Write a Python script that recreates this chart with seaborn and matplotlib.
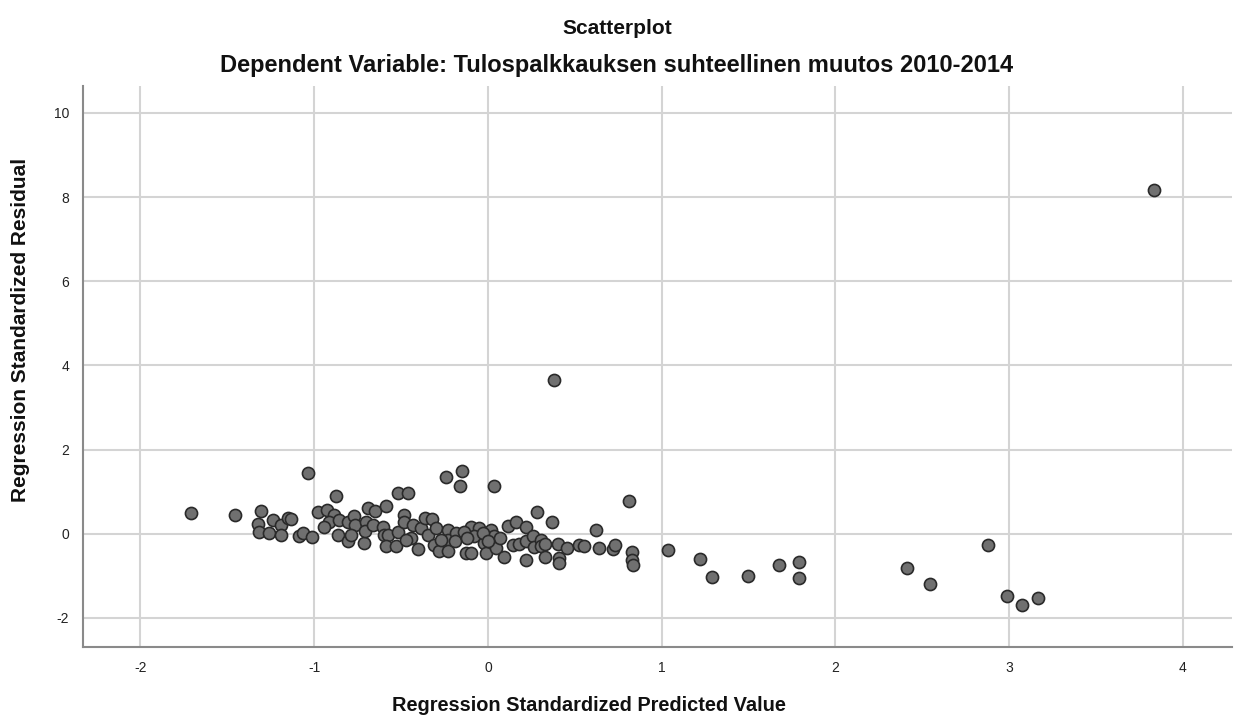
import matplotlib
matplotlib.use("Agg")
import matplotlib.pyplot as plt
import seaborn as sns
import pandas as pd

# Regression standardized predicted values and residuals
predicted = [
    -1.706, -1.453, -1.304, -1.325, -1.315, -1.262, -1.239, -1.189, -1.190, -1.152,
    -1.133, -1.089, -1.066, -1.035, -1.014, -0.978, -0.924, -0.874, -0.884, -0.912,
    -0.941, -0.859, -0.865, -0.807, -0.807, -0.769, -0.763, -0.788, -0.711, -0.692,
    -0.648, -0.586, -0.701, -0.705, -0.663, -0.606, -0.596, -0.573, -0.586, -0.529,
    -0.520, -0.520, -0.462, -0.481, -0.481, -0.443, -0.471, -0.429, -0.404, -0.385,
    -0.360, -0.322, -0.347, -0.299, -0.308, -0.280, -0.232, -0.232, -0.184, -0.232,
    -0.191, -0.126, -0.097, -0.097, -0.050, -0.078, -0.021, 0.018, 0.037, -0.011,
    0.047, 0.094, 0.116, 0.162, 0.142, 0.070, 0.177, 0.219, 0.219, 0.261,
    0.267, 0.305, 0.305, 0.330, 0.219, 0.330, 0.401, 0.453, 0.411, 0.411,
    0.522, 0.555, 0.280, 0.367, 0.622, 0.641, 0.718, 0.733, 0.810, 0.829,
    0.829, 0.837, 1.038, -0.241, -0.151, -0.161, 0.033, 0.380, -0.270, -0.140,
    -0.120, -0.030, 0.000, 1.219, 1.288, 1.496, 1.677, 1.789, 1.792, 2.413,
    2.542, 2.879, 2.990, 3.076, 3.165, 3.834,
]
residual = [
    0.49, 0.45, 0.55, 0.24, 0.04, 0.02, 0.33, 0.21, -0.02, 0.37,
    0.36, -0.05, 0.02, 1.45, -0.08, 0.52, 0.57, 0.89, 0.45, 0.29,
    0.16, 0.33, -0.02, 0.29, -0.18, 0.43, 0.21, -0.02, -0.22, 0.61,
    0.55, 0.67, 0.29, 0.07, 0.21, 0.17, -0.02, -0.04, -0.30, -0.30,
    0.05, 0.98, 0.98, 0.45, 0.29, -0.10, -0.14, 0.21, -0.36, 0.14,
    0.37, 0.36, -0.02, 0.14, -0.26, -0.42, 0.10, -0.14, 0.02, -0.42,
    -0.18, -0.46, -0.46, 0.17, 0.14, -0.06, -0.22, 0.10, -0.06, -0.46,
    -0.34, -0.54, 0.18, 0.29, -0.26, -0.09, -0.24, 0.15, -0.17, -0.06,
    -0.32, -0.14, -0.30, -0.24, -0.62, -0.55, -0.24, -0.34, -0.58, -0.70,
    -0.26, -0.29, 0.52, 0.29, 0.08, -0.34, -0.36, -0.27, 0.77, -0.44,
    -0.62, -0.75, -0.39, 1.36, 1.48, 1.14, 1.14, 3.65, -0.14, 0.05,
    -0.10, 0.02, -0.18, -0.60, -1.02, -1.01, -0.74, -0.67, -1.04, -0.81,
    -1.20, -0.26, -1.48, -1.69, -1.52, 8.17,
]

x_ticks = [-2, -1, 0, 1, 2, 3, 4]
y_ticks = [-2, 0, 2, 4, 6, 8, 10]

df = pd.DataFrame({"pred": predicted, "resid": residual})

sns.set_theme(style="white")
plt.rcParams["font.family"] = ["Liberation Sans", "DejaVu Sans"]

fig = plt.figure(figsize=(12.34, 7.2), dpi=100)
ax = fig.add_axes([0.0673, 0.1014, 0.9307, 0.7792])

sns.scatterplot(
    data=df, x="pred", y="resid", ax=ax,
    s=76, color="#707070", edgecolor="#2a2a2a", linewidth=1.2, alpha=1.0,
    zorder=3,
)

ax.set_xlim(-2.33, 4.28)
ax.set_ylim(-2.69, 10.64)
ax.set_xticks(x_ticks)
ax.set_yticks(y_ticks)
ax.set_xticklabels([str(t) for t in x_ticks])
ax.set_yticklabels([str(t) for t in y_ticks])
ax.tick_params(axis="both", length=0, labelsize=10, colors="#222222", pad=10)
ax.grid(True, color="#d4d4d4", linewidth=1.5, zorder=0)
ax.set_axisbelow(True)

for side in ["top", "right"]:
    ax.spines[side].set_visible(False)
for side in ["left", "bottom"]:
    ax.spines[side].set_color("#8a8a8a")
    ax.spines[side].set_linewidth(1.5)

ax.set_xlabel("")
ax.set_ylabel("")

fig.text(0.5, 0.960, "Scatterplot", ha="center", va="center",
         fontsize=15, fontweight="bold", color="#111111")
fig.text(0.5, 0.909, "Dependent Variable: Tulospalkkauksen suhteellinen muutos 2010-2014",
         ha="center", va="center", fontsize=17, fontweight="bold", color="#111111")
fig.text(0.477, 0.020, "Regression Standardized Predicted Value", ha="center",
         va="center", fontsize=14.4, fontweight="bold", color="#111111")
fig.text(0.017, 0.542, "Regression Standardized Residual", ha="center",
         va="center", rotation=90, fontsize=15, fontweight="bold", color="#111111")

fig.savefig("out.png", dpi=100)
